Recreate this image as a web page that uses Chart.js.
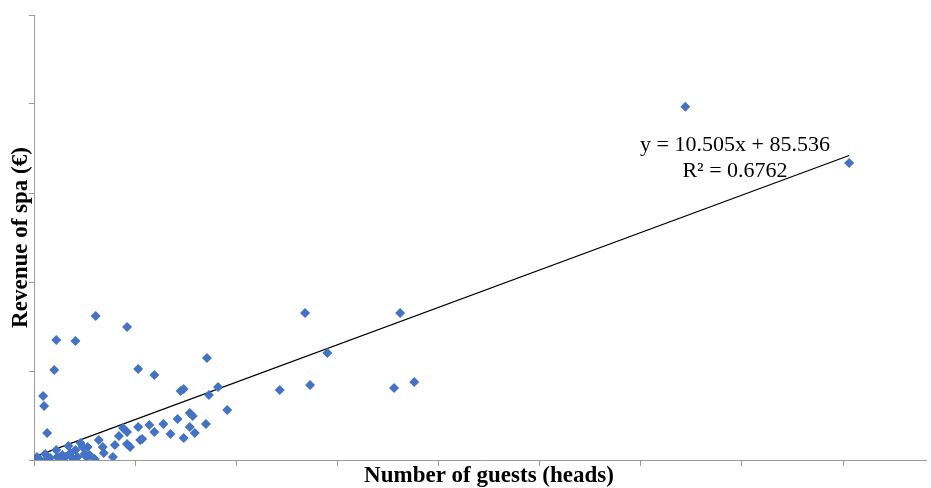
<!DOCTYPE html>
<html>
<head>
<meta charset="utf-8">
<script src="https://cdn.jsdelivr.net/npm/chart.js@4/dist/chart.umd.min.js"></script>
<style>
  html, body { margin: 0; padding: 0; background: #fff; }
  #wrap { width: 931px; height: 488px; }
</style>
</head>
<body>
<div id="wrap"><canvas id="spa"></canvas></div>
<script>
// guests (heads) vs spa revenue (€)
const guests = [
  644, 806, 268, 362, 61, 92, 22, 41, 290, 171,
  20, 103, 119, 9, 10, 145, 148, 173, 182, 191,
  243, 273, 356, 376, 13, 154, 157, 142, 170, 154,
  159, 128, 114, 119, 135, 148, 103, 105, 107, 88,
  92, 84, 92, 95, 80, 78, 64, 68, 69, 53,
  55, 52, 46, 48, 41, 43, 36, 31, 26, 22,
  23, 11, 13, 3, 1, 6, 16, 28, 38, 50, 60, 34
];
const revenue = [
  9920, 8340, 4130, 4130, 4045, 3736, 3370, 3343, 3006, 2865,
  2528, 2556, 2388, 1798, 1517, 1938, 1994, 1826, 2051, 1404,
  1966, 2107, 2022, 2191, 758, 1320, 1236, 1152, 1011, 927,
  758, 1011, 983, 787, 730, 618, 927, 562, 590, 899,
  787, 674, 449, 365, 421, 84, 562, 365, 197, 365,
  140, 84, 478, 365, 281, 84, 197, 84, 84, 281,
  84, 169, 28, 84, 10, 10, 56, 140, 56, 169, 28, 393
];

// Excel linear trendline
const slope = 10.505;
const intercept = 85.536;
const rSquared = 0.6762;

const xMax = 882, xStep = 100;
const yMax = 12500, yStep = 2500;

const points = guests.map((g, i) => ({ x: g, y: revenue[i] }));
const xLo = Math.min(...guests), xHi = Math.max(...guests);
const trend = [xLo, xHi].map(x => ({ x, y: slope * x + intercept }));

const SERIF = '"Liberation Serif", "Times New Roman", serif';
const AXIS = '#9a9a9a';

// axis titles + trendline label
const labels = {
  id: 'labels',
  afterDraw(chart) {
    const { ctx, chartArea: a } = chart;
    ctx.save();
    ctx.fillStyle = '#000';
    ctx.textAlign = 'center';
    ctx.textBaseline = 'middle';
    ctx.font = 'bold 23px ' + SERIF;
    ctx.fillText('Number of guests (heads)', 489, 476);
    ctx.translate(21, (a.top + a.bottom) / 2);
    ctx.rotate(-Math.PI / 2);
    ctx.fillText('Revenue of spa (€)', 0, 0);
    ctx.restore();

    ctx.save();
    ctx.fillStyle = '#000';
    ctx.textAlign = 'center';
    ctx.textBaseline = 'middle';
    ctx.font = '22px ' + SERIF;
    ctx.fillText(`y = ${slope}x + ${intercept}`, 735, 145);
    ctx.fillText(`R² = ${rSquared}`, 735, 171);
    ctx.restore();
  }
};

new Chart(document.getElementById('spa'), {
  type: 'scatter',
  data: {
    datasets: [
      {
        data: points, pointStyle: 'rectRot', pointRadius: 5, pointHoverRadius: 5,
        backgroundColor: '#4472C4', borderColor: '#4472C4', borderWidth: 0
      },
      {
        type: 'line', data: trend, borderColor: '#000', borderWidth: 1.2,
        pointRadius: 0, fill: false
      }
    ]
  },
  options: {
    responsive: true, maintainAspectRatio: false, animation: false,
    layout: { padding: { top: 15, right: 0, left: 0, bottom: 0 } },
    plugins: { legend: { display: false }, tooltip: { enabled: false } },
    scales: {
      x: {
        type: 'linear', min: 0, max: xMax,
        ticks: { display: false, stepSize: xStep },
        afterBuildTicks: s => { s.ticks = s.ticks.filter(t => t.value % xStep === 0); },
        afterFit: s => { s.height = 28; },
        grid: { drawOnChartArea: false, drawTicks: true, tickLength: 6, color: AXIS },
        border: { color: AXIS, width: 1 }
      },
      y: {
        min: 0, max: yMax,
        ticks: { display: false, stepSize: yStep },
        afterFit: s => { s.width = 34; },
        grid: { drawOnChartArea: false, drawTicks: true, tickLength: 5, color: AXIS },
        border: { color: AXIS, width: 1 }
      }
    }
  },
  plugins: [labels]
});
</script>
</body>
</html>
